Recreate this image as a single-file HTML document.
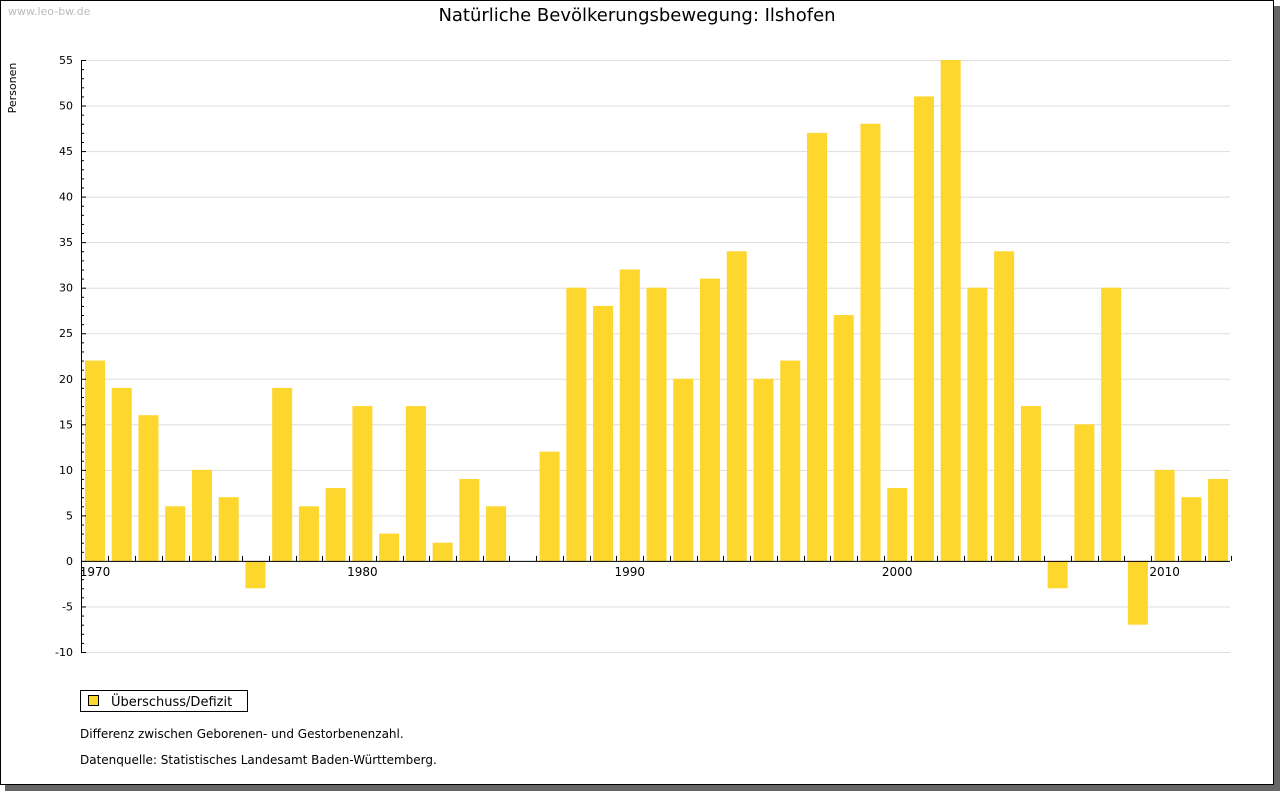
<!DOCTYPE html>
<html><head><meta charset="utf-8"><style>
body{margin:0;background:#fff;width:1280px;height:791px;overflow:hidden;font-family:"DejaVu Sans","Liberation Sans",sans-serif}
</style></head><body>
<svg width="1280" height="791" xmlns="http://www.w3.org/2000/svg" id="svg">
<rect x="5" y="6" width="1275" height="785" fill="#666"/>
<rect x="0.5" y="0.5" width="1273" height="784" fill="#fff" stroke="#000"/>
<text x="8" y="15" font-size="11" fill="#bbb">www.leo-bw.de</text>
<text x="637" y="21" font-size="18" text-anchor="middle" fill="#000">Natürliche Bevölkerungsbewegung: Ilshofen</text>
<text transform="translate(16,88) rotate(-90)" font-size="11" text-anchor="middle">Personen</text>
<g id="grid"></g><g id="bars"></g><g id="axes"></g>
<rect x="80.5" y="690.5" width="167" height="21" fill="#fff" stroke="#000"/>
<rect x="88.5" y="695.5" width="10" height="10" fill="#FDD62E" stroke="#000"/>
<text x="111" y="706" font-size="13">Überschuss/Defizit</text>
<text x="80" y="738" font-size="12">Differenz zwischen Geborenen- und Gestorbenenzahl.</text>
<text x="80" y="764" font-size="12">Datenquelle: Statistisches Landesamt Baden-Württemberg.</text>
</svg>
<script>
const years=[1970,1971,1972,1973,1974,1975,1976,1977,1978,1979,1980,1981,1982,1983,1984,1985,1986,1987,1988,1989,1990,1991,1992,1993,1994,1995,1996,1997,1998,1999,2000,2001,2002,2003,2004,2005,2006,2007,2008,2009,2010,2011,2012];
const values=[22,19,16,6,10,7,-3,19,6,8,17,3,17,2,9,6,0,12,30,28,32,30,20,31,34,20,22,47,27,48,8,51,55,30,34,17,-3,15,30,-7,10,7,9];
const yTicks=[-10,-5,0,5,10,15,20,25,30,35,40,45,50,55];
const xLabels=[1970,1980,1990,2000,2010];
const NS="http://www.w3.org/2000/svg";
const yMin=-10,yMax=55,plotTop=60,plotBot=652;
const y=v=>plotBot-(v-yMin)/(yMax-yMin)*(plotBot-plotTop);
const step=26.74,x0=95;
const x=yr=>x0+(yr-years[0])*step;
function mk(t,a,p){const e=document.createElementNS(NS,t);for(const k in a)e.setAttribute(k,a[k]);document.getElementById(p).appendChild(e);return e;}
yTicks.forEach(v=>{
 const g=mk('line',{x1:81,x2:1230,y1:y(v)+.5,y2:y(v)+.5,stroke:'#ddd'},'grid');
 
 
 const t=mk('text',{x:73,y:y(v)+4,'font-size':11,'text-anchor':'end'},'axes');t.textContent=v;
 
 
 mk('line',{x1:81,x2:86,y1:y(v)+.5,y2:y(v)+.5,stroke:'#000'},'axes');
});
for(let v=yMin;v<=yMax;v++){if(v%5)mk('line',{x1:81,x2:84,y1:y(v)+.5,y2:y(v)+.5,stroke:'#000'},'axes');}
years.forEach((yr,i)=>{
 const v=values[i];const cx=x(yr);
 const r=mk('rect',{x:cx-10,y:Math.min(y(v),y(0)),width:20,height:Math.abs(y(v)-y(0)),fill:'#FDD62E'},'bars');
 
 
 const tx=Math.round(cx+step/2)+.5;
 mk('line',{x1:tx,x2:tx,y1:y(0)-5,y2:y(0),stroke:'#000'},'axes');
});
xLabels.forEach(yr=>{
 const t=mk('text',{x:x(yr),y:y(0)+15,'font-size':12,'text-anchor':'middle'},'axes');t.textContent=yr;
 
 
});
const ax=mk('line',{x1:81.5,x2:81.5,y1:plotTop,y2:plotBot,stroke:'#000'},'axes');


const xa=mk('line',{x1:81,x2:1230,y1:y(0)+.5,y2:y(0)+.5,stroke:'#000'},'axes');


</script>
</body></html>
